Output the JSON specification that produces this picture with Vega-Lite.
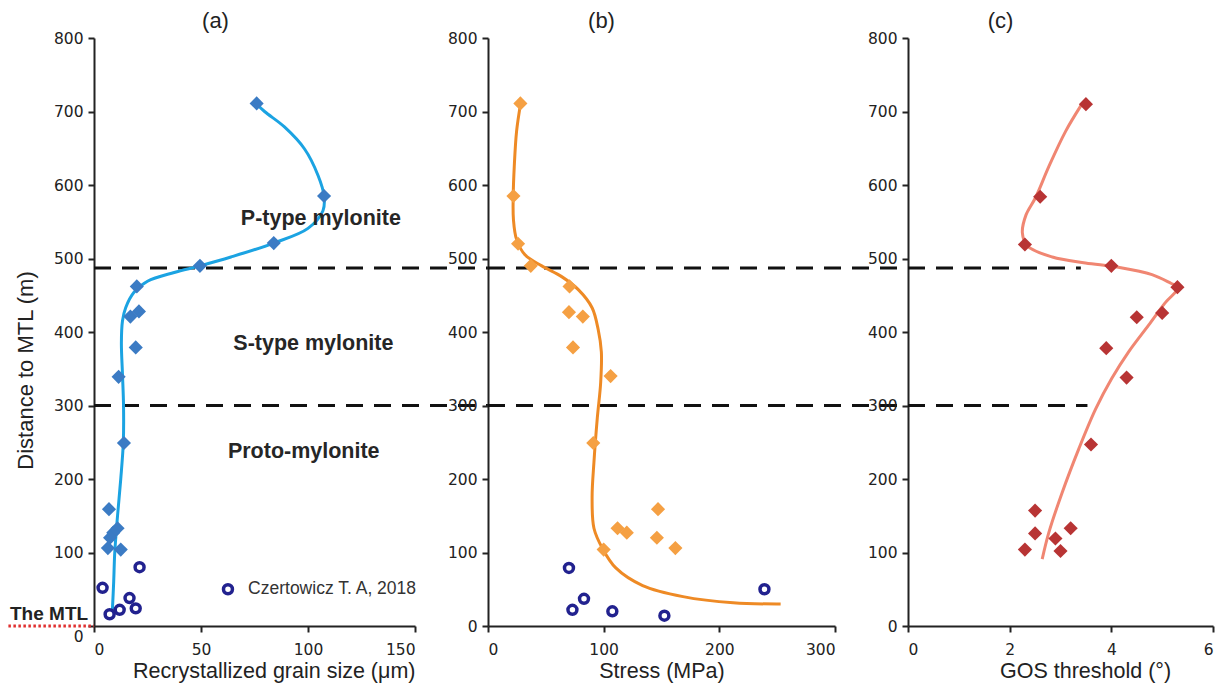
{
  "$schema": "https://vega.github.io/schema/vega-lite/v6.json",
  "background": "white",
  "padding": {"left": 6, "top": 10, "right": 5, "bottom": 2},
  "config": {
    "view": {"stroke": null},
    "axis": {
      "grid": false,
      "domainColor": "#222222",
      "domainWidth": 2,
      "tickColor": "#222222",
      "tickWidth": 2,
      "tickSize": 6,
      "labelFont": "DejaVu Sans",
      "labelFontSize": 15.5,
      "labelColor": "#222222",
      "labelPadding": 5,
      "titleFont": "Liberation Sans",
      "titleFontSize": 21.5,
      "titleFontWeight": "normal",
      "titleColor": "#222222"
    },
    "axisX": {"labelPadding": 10, "titlePadding": 3},
    "title": {"font": "Liberation Sans", "fontSize": 22, "fontWeight": "normal", "color": "#222222", "frame": "group", "anchor": "middle", "offset": -2}
  },
  "datasets": {
    "gs": [
      {"x": 76, "y": 711}, {"x": 107.5, "y": 585}, {"x": 84, "y": 521}, {"x": 49.5, "y": 490},
      {"x": 20, "y": 462}, {"x": 21, "y": 428}, {"x": 17, "y": 421}, {"x": 19.5, "y": 379},
      {"x": 11.5, "y": 339}, {"x": 14, "y": 249}, {"x": 7, "y": 159}, {"x": 11, "y": 133},
      {"x": 9, "y": 127}, {"x": 7.5, "y": 120}, {"x": 6.5, "y": 106}, {"x": 12.5, "y": 104}
    ],
    "czGs": [
      {"x": 21.3, "y": 80}, {"x": 4, "y": 52}, {"x": 16.6, "y": 38}, {"x": 12, "y": 22},
      {"x": 19.5, "y": 24}, {"x": 7.3, "y": 16}
    ],
    "gsCurve": [
      {"x": 8.6, "y": 22}, {"x": 9.2, "y": 60}, {"x": 9.7, "y": 100}, {"x": 11, "y": 150},
      {"x": 12.5, "y": 200}, {"x": 13.7, "y": 250}, {"x": 13.8, "y": 300}, {"x": 13.3, "y": 343},
      {"x": 12.8, "y": 385}, {"x": 13.3, "y": 415}, {"x": 14.8, "y": 433}, {"x": 18.7, "y": 454},
      {"x": 25, "y": 469}, {"x": 37.5, "y": 481}, {"x": 49.5, "y": 490}, {"x": 64, "y": 502},
      {"x": 84, "y": 521}, {"x": 100, "y": 541}, {"x": 107, "y": 565}, {"x": 107.5, "y": 585},
      {"x": 104.7, "y": 613}, {"x": 98.4, "y": 649}, {"x": 89, "y": 679}, {"x": 79.7, "y": 700},
      {"x": 75.8, "y": 711}
    ],
    "stress": [
      {"x": 28, "y": 711}, {"x": 22, "y": 585}, {"x": 26, "y": 520}, {"x": 37, "y": 490},
      {"x": 70.5, "y": 462}, {"x": 70, "y": 427}, {"x": 82, "y": 421}, {"x": 73.5, "y": 379},
      {"x": 106, "y": 340}, {"x": 91, "y": 249}, {"x": 100, "y": 104}, {"x": 112, "y": 133},
      {"x": 120, "y": 127}, {"x": 147, "y": 159}, {"x": 146, "y": 120}, {"x": 162, "y": 106}
    ],
    "czStress": [
      {"x": 70, "y": 79}, {"x": 73, "y": 22}, {"x": 83, "y": 37}, {"x": 107.5, "y": 20},
      {"x": 152.5, "y": 14}, {"x": 239, "y": 50}
    ],
    "stressCurve": [
      {"x": 253, "y": 30}, {"x": 212, "y": 31.5}, {"x": 168.6, "y": 40}, {"x": 133.7, "y": 55},
      {"x": 110.5, "y": 79}, {"x": 98.8, "y": 106}, {"x": 91.6, "y": 133}, {"x": 90, "y": 175},
      {"x": 91.6, "y": 223}, {"x": 94.5, "y": 283}, {"x": 97.4, "y": 331}, {"x": 98, "y": 373},
      {"x": 95.3, "y": 403}, {"x": 90, "y": 433}, {"x": 78.5, "y": 457}, {"x": 64, "y": 475},
      {"x": 46.5, "y": 490}, {"x": 32, "y": 505}, {"x": 24.7, "y": 526}, {"x": 22, "y": 553},
      {"x": 21.8, "y": 585}, {"x": 22.7, "y": 625}, {"x": 24.7, "y": 673}, {"x": 28.2, "y": 711}
    ],
    "gos": [
      {"x": 3.5, "y": 710}, {"x": 2.6, "y": 584}, {"x": 2.3, "y": 519}, {"x": 4.0, "y": 490},
      {"x": 5.3, "y": 461}, {"x": 5.0, "y": 426}, {"x": 4.5, "y": 420}, {"x": 3.9, "y": 378},
      {"x": 4.3, "y": 338}, {"x": 3.6, "y": 247}, {"x": 2.5, "y": 157}, {"x": 2.5, "y": 126},
      {"x": 3.2, "y": 133}, {"x": 2.9, "y": 119}, {"x": 2.3, "y": 104}, {"x": 3.0, "y": 102}
    ],
    "gosCurve": [
      {"x": 2.64, "y": 91}, {"x": 2.77, "y": 127}, {"x": 3.03, "y": 181}, {"x": 3.36, "y": 241},
      {"x": 3.69, "y": 295}, {"x": 4.01, "y": 337}, {"x": 4.34, "y": 373}, {"x": 4.73, "y": 409},
      {"x": 5.05, "y": 439}, {"x": 5.32, "y": 461}, {"x": 5.18, "y": 466}, {"x": 4.8, "y": 478},
      {"x": 4.14, "y": 488}, {"x": 3.49, "y": 494}, {"x": 2.84, "y": 502}, {"x": 2.35, "y": 517},
      {"x": 2.25, "y": 535}, {"x": 2.32, "y": 559}, {"x": 2.51, "y": 583}, {"x": 2.77, "y": 625},
      {"x": 3.1, "y": 673}, {"x": 3.42, "y": 710}
    ]
  },
  "bounds": "flush",
  "spacing": 73,
  "hconcat": [
    {
      "width": 321,
      "height": 588,
      "title": {"text": "(a)", "dx": -39},
      "encoding": {
        "x": {"field": "x", "type": "quantitative", "scale": {"domain": [0, 150], "nice": false, "zero": false},
              "axis": {"values": [0, 50, 100, 150], "title": "Recrystallized grain size (μm)", "titleAnchor": "end"}},
        "y": {"field": "y", "type": "quantitative", "scale": {"domain": [0, 800], "nice": false},
              "axis": {"values": [0, 100, 200, 300, 400, 500, 600, 700, 800], "title": "Distance to MTL (m)", "titleY": 332, "titlePadding": 16, "titleFontSize": 22,
                       "labelOffset": {"condition": {"test": "datum.value === 0", "value": 10}, "value": 0}}}
      },
      "layer": [
        {
          "data": {"values": [{"x": 0, "x2": 184.1, "y": 487}, {"x": 0, "x2": 184.1, "y": 300}]},
          "mark": {"type": "rule", "color": "#111111", "strokeWidth": 3, "strokeDash": [17, 11]},
          "encoding": {"x2": {"field": "x2"}}
        },
        {
          "data": {"values": [{"x": -40, "x2": 0, "y": 0}]},
          "mark": {"type": "rule", "color": "#e03030", "strokeWidth": 3, "strokeDash": [2.5, 2.5]},
          "encoding": {"x2": {"field": "x2"}}
        },
        {
          "data": {"name": "gsCurve"},
          "mark": {"type": "line", "color": "#1ba3e2", "strokeWidth": 3, "interpolate": "catmull-rom"},
          "encoding": {"order": {"field": "y", "type": "quantitative"}}
        },
        {
          "data": {"name": "gs"},
          "mark": {"type": "point", "shape": "diamond", "filled": true, "size": 200, "color": "#3b7bc4", "opacity": 1}
        },
        {
          "data": {"name": "czGs"},
          "mark": {"type": "point", "shape": "circle", "filled": false, "size": 80, "color": "#22228f", "strokeWidth": 3.5, "opacity": 1}
        },
        {
          "data": {"values": [{"x": 62.6, "y": 50}]},
          "mark": {"type": "point", "shape": "circle", "filled": false, "size": 80, "color": "#22228f", "strokeWidth": 3.5, "opacity": 1}
        },
        {
          "data": {"values": [{"x": 72, "y": 50, "label": "Czertowicz T. A, 2018"}]},
          "mark": {"type": "text", "align": "left", "baseline": "middle", "font": "Liberation Sans", "fontSize": 17.5, "color": "#333333"},
          "encoding": {"text": {"field": "label"}}
        },
        {
          "data": {"values": [
            {"x": 106, "y": 546, "label": "P-type mylonite"},
            {"x": 102.5, "y": 376, "label": "S-type mylonite"},
            {"x": 98, "y": 229, "label": "Proto-mylonite"}
          ]},
          "mark": {"type": "text", "align": "center", "baseline": "alphabetic", "font": "Liberation Sans", "fontSize": 21.5, "fontWeight": "bold", "color": "#262626"},
          "encoding": {"text": {"field": "label"}}
        },
        {
          "data": {"values": [{"x": -21, "y": 8, "label": "The MTL"}]},
          "mark": {"type": "text", "align": "center", "baseline": "alphabetic", "font": "Liberation Sans", "fontSize": 19, "fontWeight": "bold", "color": "#222222"},
          "encoding": {"text": {"field": "label"}}
        }
      ]
    },
    {
      "width": 347,
      "height": 588,
      "title": {"text": "(b)", "dx": -60},
      "encoding": {
        "x": {"field": "x", "type": "quantitative", "scale": {"domain": [0, 300], "nice": false, "zero": false},
              "axis": {"values": [0, 100, 200, 300], "title": "Stress (MPa)"}},
        "y": {"field": "y", "type": "quantitative", "scale": {"domain": [0, 800], "nice": false},
              "axis": {"values": [0, 100, 200, 300, 400, 500, 600, 700, 800], "title": null}}
      },
      "layer": [
        {
          "data": {"values": [{"x": 0, "x2": 363.1, "y": 487}, {"x": 0, "x2": 363.1, "y": 300}]},
          "mark": {"type": "rule", "color": "#111111", "strokeWidth": 3, "strokeDash": [17, 11]},
          "encoding": {"x2": {"field": "x2"}}
        },
        {
          "data": {"name": "stressCurve"},
          "mark": {"type": "line", "color": "#ee8a25", "strokeWidth": 3, "interpolate": "catmull-rom"},
          "encoding": {"order": {"field": "y", "type": "quantitative"}}
        },
        {
          "data": {"name": "stress"},
          "mark": {"type": "point", "shape": "diamond", "filled": true, "size": 200, "color": "#f5a043", "opacity": 1}
        },
        {
          "data": {"name": "czStress"},
          "mark": {"type": "point", "shape": "circle", "filled": false, "size": 80, "color": "#22228f", "strokeWidth": 3.5, "opacity": 1}
        }
      ]
    },
    {
      "width": 305,
      "height": 588,
      "title": {"text": "(c)", "dx": -60},
      "encoding": {
        "x": {"field": "x", "type": "quantitative", "scale": {"domain": [0, 6], "nice": false, "zero": false},
              "axis": {"values": [0, 2, 4, 6], "title": "GOS threshold (°)", "titleX": 177}},
        "y": {"field": "y", "type": "quantitative", "scale": {"domain": [0, 800], "nice": false},
              "axis": {"values": [0, 100, 200, 300, 400, 500, 600, 700, 800], "title": null}}
      },
      "layer": [
        {
          "data": {"values": [{"x": 0, "x2": 3.4, "y": 487}, {"x": 0, "x2": 3.53, "y": 300}]},
          "mark": {"type": "rule", "color": "#111111", "strokeWidth": 3, "strokeDash": [17, 11]},
          "encoding": {"x2": {"field": "x2"}}
        },
        {
          "data": {"name": "gosCurve"},
          "mark": {"type": "line", "color": "#f08672", "strokeWidth": 3, "interpolate": "catmull-rom"},
          "encoding": {"order": {"field": "y", "type": "quantitative"}}
        },
        {
          "data": {"name": "gos"},
          "mark": {"type": "point", "shape": "diamond", "filled": true, "size": 200, "color": "#b83434", "opacity": 1}
        }
      ]
    }
  ]
}
